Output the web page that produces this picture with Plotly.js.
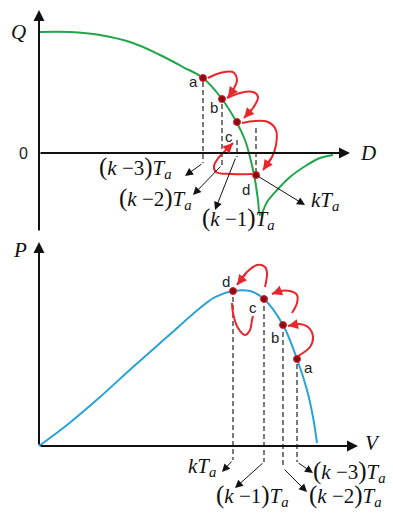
<!DOCTYPE html>
<html>
<head>
<meta charset="utf-8">
<script src="https://cdn.plot.ly/plotly-3.0.1.min.js"></script>
<style>html,body{margin:0;padding:0;background:#fff}#chart{width:393px;height:515px}</style>
</head>
<body>
<div id="chart"></div>
<script>
// top panel: Q-D curve
const qdX = [0.0, 3.1, 6.1, 9.4, 12.1, 14.4, 16.4, 18.3, 19.8, 20.6, 21.1, 21.6, 21.9, 22.1, 22.3, 22.8, 23.8, 25.1, 26.8, 28.1, 29.4];
const qdY = [12.1, 12.1, 11.8, 11.0, 9.8, 8.6, 7.5, 5.4, 3.0, 1.3, -0.4, -2.7, -4.7, -6.2, -6.0, -4.9, -3.7, -2.4, -1.2, -0.5, -0.2];
// bottom panel: P-V curve
const pvX = [0.0, 2.8, 6.1, 9.4, 12.8, 16.1, 17.6, 19.4, 21.1, 22.5, 24.4, 25.8, 26.8, 27.4, 27.8];
const pvY = [0.0, 2.1, 4.9, 7.9, 10.9, 13.8, 14.9, 15.5, 15.5, 14.7, 12.1, 8.7, 5.6, 2.9, 0.3];

// operating points a, b, c, d
const pointNames = ['a', 'b', 'c', 'd'];
const topPtX = [16.4, 18.3, 19.8, 21.7];
const topPtY = [7.5, 5.4, 3.1, -2.2];
const botPtX = [25.8, 24.4, 22.5, 19.4];
const botPtY = [8.7, 12.1, 14.7, 15.5];
const topNameX = [15.4, 17.5, 19.0, 20.7];
const topNameY = [7.2, 4.6, 1.7, -3.6];
const botNameX = [26.9, 23.6, 21.4, 18.7];
const botNameY = [7.9, 10.9, 13.9, 16.5];

// dashed drop lines
const topDropY1 = [7.1, 4.9, 1.3, 2.5];
const topDropY2 = [-1.0, -1.2, -0.4, -2.0];
const botDropY1 = [8.2, 11.4, 14.0, 14.9];
const botDropY2 = [-1.6, -2.2, -1.6, -1.4];

// sampling instants
const stepNames = ['(k−3)', '(k−2)', '(k−1)', 'k'];
const topLblX = [9.6, 11.6, 19.9, 28.6];
const topLblY = [-1.4, -4.5, -6.5, -4.8];
const topTailX = [16.4, 18.3, 19.7, 21.7];
const topTailY = [-1.0, -1.2, -0.4, -2.2];
const topTipX = [14.6, 15.4, 17.6, 26.6];
const topTipY = [-2.3, -4.2, -5.7, -5.2];
const botLblX = [27.2, 26.8, 21.3, 16.3];
const botLblY = [-2.5, -4.9, -4.9, -2.1];
const botTailX = [25.8, 24.4, 22.5, 19.4];
const botTailY = [-1.6, -2.2, -1.6, -1.4];
const botTipX = [27.4, 26.8, 19.6, 18.3];
const botTipY = [-2.7, -4.6, -4.2, -2.6];

// red transition arrows
const topJumps = [
  [[16.9, 18.1, 19.4, 19.8, 19.4, 18.9], [7.5, 8.0, 8.1, 7.3, 6.3, 5.6]],
  [[18.8, 20.1, 21.4, 21.9, 21.4, 20.5], [5.5, 6.0, 6.1, 5.6, 4.5, 3.5]],
  [[20.3, 21.6, 22.9, 23.7, 23.7, 23.3, 22.4], [3.0, 3.2, 3.1, 2.3, 0.8, -0.4, -1.7]],
  [[21.3, 19.3, 17.7, 17.5, 18.1, 18.9, 19.4], [-2.1, -2.1, -1.9, -1.3, -0.3, 0.5, 1.0]]
];
const botJumps = [
  [[25.9, 27.1, 27.4, 26.9, 25.9, 24.9], [9.0, 9.9, 10.9, 11.9, 12.2, 12.0]],
  [[25.3, 25.8, 25.8, 25.1, 24.1, 23.3], [13.3, 14.3, 15.1, 15.5, 15.5, 15.2]],
  [[22.6, 22.8, 22.6, 21.8, 20.8, 19.8], [15.9, 17.3, 17.9, 18.1, 17.4, 16.1]],
  [[19.3, 19.4, 19.9, 20.6, 21.1, 21.3, 21.4], [14.3, 13.3, 11.8, 11.1, 11.6, 12.6, 13.0]]
];

const RED = '#e8262c';
const serif = 'Liberation Serif, Times New Roman, serif';
const sans = 'Liberation Sans, Arial, sans-serif';

function dropLines(xs, y1, y2, xa, ya) {
  const x = [], y = [];
  xs.forEach((v, i) => { x.push(v, v, null); y.push(y1[i], y2[i], null); });
  return {x, y, xaxis: xa, yaxis: ya, mode: 'lines', hoverinfo: 'skip',
    line: {color: '#222', width: 1.2, dash: '5px,3px'}};
}

function arrow(xa, ya, tx, ty, hx, hy, color, w, size) {
  return {xref: xa, yref: ya, axref: xa, ayref: ya, x: hx, y: hy, ax: tx, ay: ty,
    text: '', showarrow: true, arrowhead: 2, arrowsize: size, arrowwidth: w,
    arrowcolor: color, standoff: 0, startstandoff: 0};
}

function stepLabel(s) {
  const m = s.match(/^\((k)(−\d)\)$/);
  const tail = '<i>T</i><sub><i>a</i></sub>';
  if (!m) return '<i>k</i>' + tail;
  return '<span style="font-size:25px">(</span><i>k</i> ' + m[2] +
    '<span style="font-size:25px">)</span>' + tail;
}

const traces = [];
traces.push({x: qdX, y: qdY, xaxis: 'x', yaxis: 'y', mode: 'lines', line: {color: '#1fa64a', width: 2, shape: 'spline'}, hoverinfo: 'skip'});
traces.push({x: pvX, y: pvY, xaxis: 'x2', yaxis: 'y2', mode: 'lines', line: {color: '#27a3d8', width: 2, shape: 'spline'}, hoverinfo: 'skip'});
traces.push(dropLines(topPtX, topDropY1, topDropY2, 'x', 'y'));
traces.push(dropLines(botPtX, botDropY1, botDropY2, 'x2', 'y2'));
topJumps.forEach(p => traces.push({x: p[0], y: p[1], xaxis: 'x', yaxis: 'y', mode: 'lines', line: {color: RED, width: 2, shape: 'spline'}, hoverinfo: 'skip'}));
botJumps.forEach(p => traces.push({x: p[0], y: p[1], xaxis: 'x2', yaxis: 'y2', mode: 'lines', line: {color: RED, width: 2, shape: 'spline'}, hoverinfo: 'skip'}));
const dot = {color: '#8c0b12', size: 7, line: {color: '#d8232a', width: 1}};
traces.push({x: topPtX, y: topPtY, xaxis: 'x', yaxis: 'y', mode: 'markers', marker: dot, hoverinfo: 'skip'});
traces.push({x: botPtX, y: botPtY, xaxis: 'x2', yaxis: 'y2', mode: 'markers', marker: dot, hoverinfo: 'skip'});

const ann = [];
// axes with arrowheads
ann.push(arrow('x', 'y', 0, -7.9, 0, 14.3, '#111', 2, 1.1));
ann.push(arrow('x', 'y', 0, 0, 31.1, 0, '#111', 2, 1.1));
ann.push(arrow('x2', 'y2', 0, 0, 0, 20.4, '#111', 2, 1.1));
ann.push(arrow('x2', 'y2', 0, 0, 31.9, 0, '#111', 2, 1.1));
// heads of red arrows
[[topJumps, 'x', 'y'], [botJumps, 'x2', 'y2']].forEach(([set, xa, ya]) => {
  set.forEach(p => {
    const n = p[0].length;
    ann.push(arrow(xa, ya, p[0][n - 2], p[1][n - 2], p[0][n - 1], p[1][n - 1], RED, 2, 1));
  });
});
// black pointer arrows and instant labels
stepNames.forEach((s, i) => {
  ann.push(arrow('x', 'y', topTailX[i], topTailY[i], topTipX[i], topTipY[i], '#111', 1, 1.6));
  ann.push(arrow('x2', 'y2', botTailX[i], botTailY[i], botTipX[i], botTipY[i], '#111', 1, 1.6));
  ann.push({xref: 'x', yref: 'y', x: topLblX[i], y: topLblY[i], text: stepLabel(s), showarrow: false,
    xanchor: 'center', yanchor: 'middle', font: {family: serif, size: 21, color: '#111'}});
  ann.push({xref: 'x2', yref: 'y2', x: botLblX[i], y: botLblY[i], text: stepLabel(s), showarrow: false,
    xanchor: i < 2 ? 'left' : 'center', yanchor: 'middle', font: {family: serif, size: 21, color: '#111'}});
});
// point names
pointNames.forEach((n, i) => {
  ann.push({xref: 'x', yref: 'y', x: topNameX[i], y: topNameY[i], text: n, showarrow: false, font: {family: sans, size: 15, color: '#222'}});
  ann.push({xref: 'x2', yref: 'y2', x: botNameX[i], y: botNameY[i], text: n, showarrow: false, font: {family: sans, size: 15, color: '#222'}});
});
// axis names
const axisFont = {family: serif, size: 21, color: '#111'};
ann.push({xref: 'x', yref: 'y', x: -2.1, y: 12.1, text: '<i>Q</i>', showarrow: false, font: axisFont});
ann.push({xref: 'x', yref: 'y', x: 32.9, y: 0, text: '<i>D</i>', showarrow: false, font: axisFont});
ann.push({xref: 'x', yref: 'y', x: -1.6, y: 0, text: '0', showarrow: false, font: {family: sans, size: 16, color: '#222'}});
ann.push({xref: 'x2', yref: 'y2', x: -1.9, y: 19.6, text: '<i>P</i>', showarrow: false, font: axisFont});
ann.push({xref: 'x2', yref: 'y2', x: 33.3, y: 0.3, text: '<i>V</i>', showarrow: false, font: axisFont});

const hidden = {visible: false, showgrid: false, zeroline: false, fixedrange: true};
const layout = {
  width: 393, height: 515,
  margin: {l: 0, r: 0, t: 0, b: 0},
  paper_bgcolor: '#fff', plot_bgcolor: 'rgba(0,0,0,0)',
  showlegend: false,
  xaxis: Object.assign({}, hidden, {domain: [0, 1], range: [-3.9, 35.4], anchor: 'y'}),
  yaxis: Object.assign({}, hidden, {domain: [0.5417, 1], range: [-8.3, 15.3], anchor: 'x'}),
  xaxis2: Object.assign({}, hidden, {domain: [0, 1], range: [-3.9, 35.4], anchor: 'y2'}),
  yaxis2: Object.assign({}, hidden, {domain: [0, 0.5417], range: [-6.9, 21.0], anchor: 'x2'}),
  annotations: ann
};

Plotly.newPlot('chart', traces, layout, {displayModeBar: false, staticPlot: true});
</script>
</body>
</html>
